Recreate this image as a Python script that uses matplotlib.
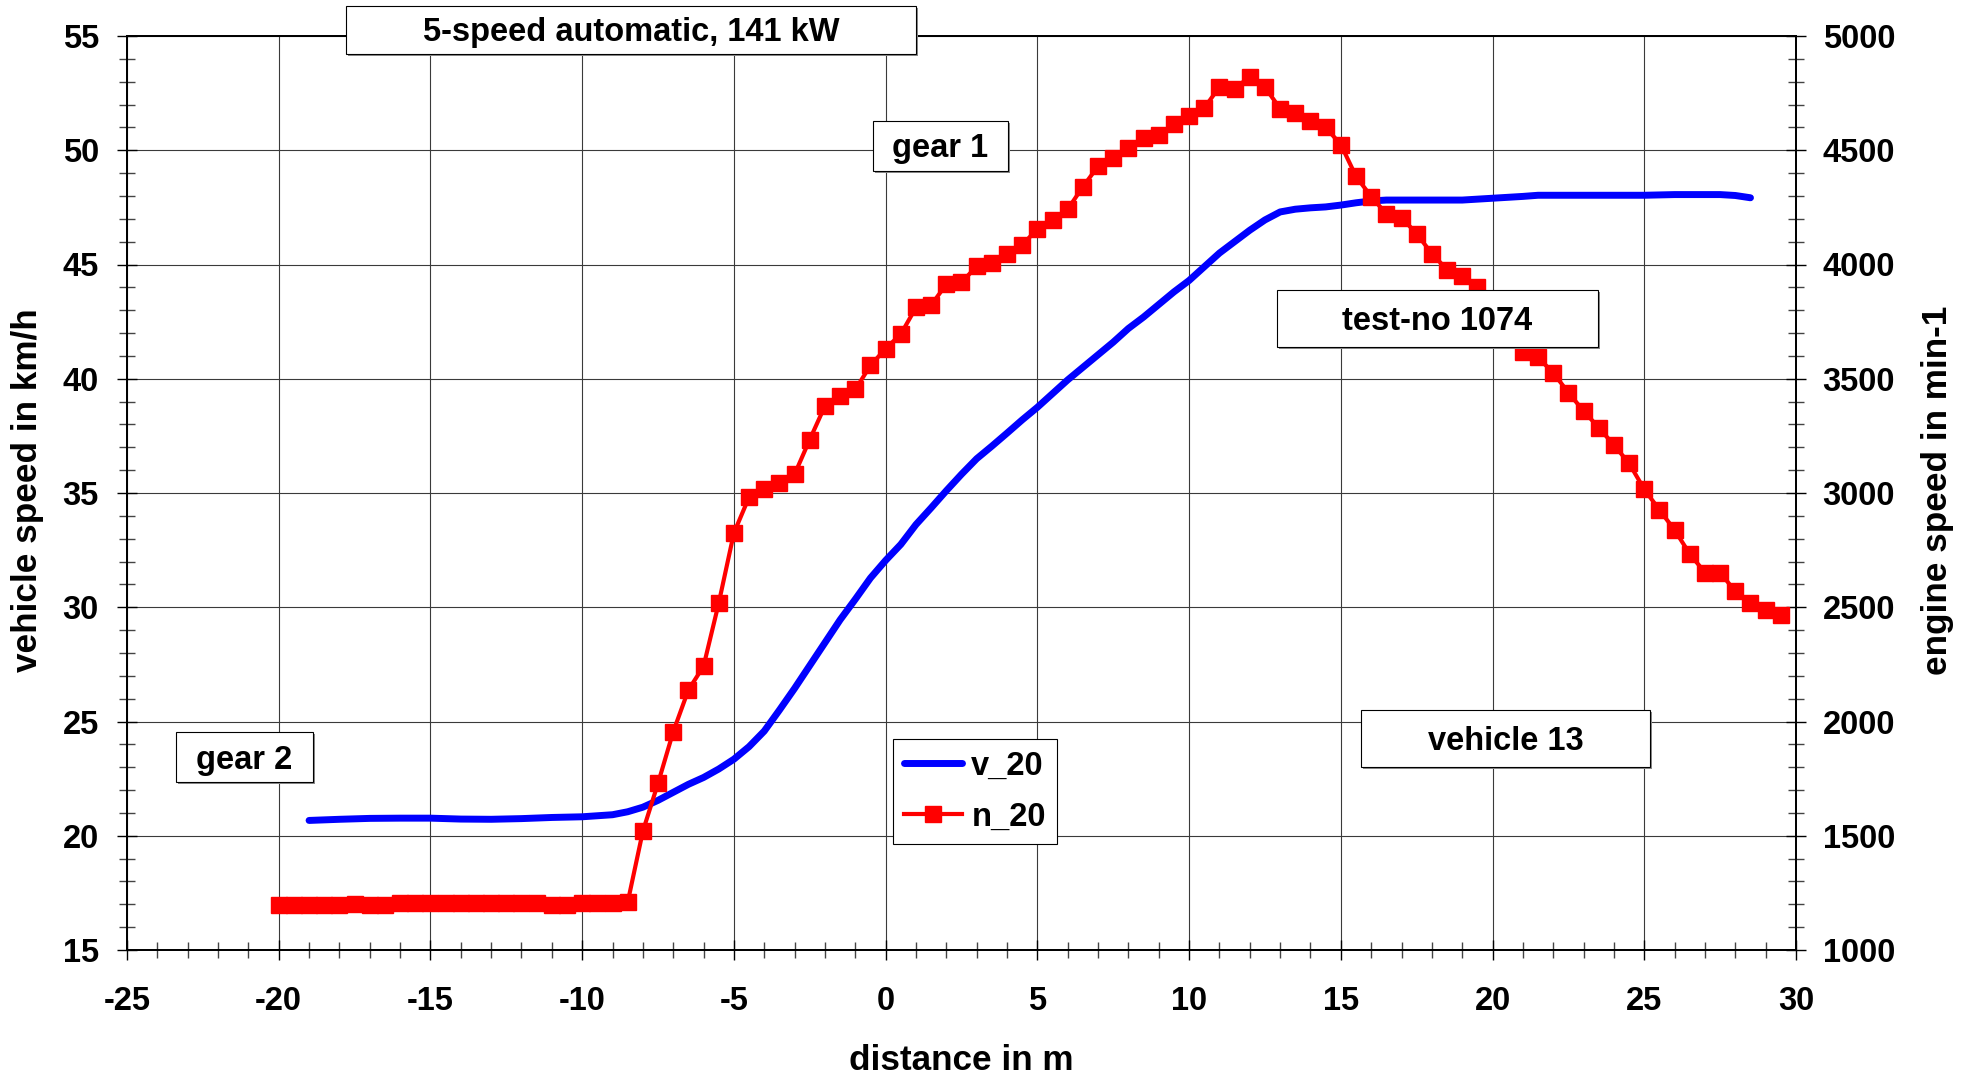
import matplotlib
matplotlib.use('Agg')
import matplotlib.pyplot as plt
from matplotlib.patches import Rectangle
from matplotlib.ticker import MultipleLocator

# ---------------- data ----------------
v_distance = [-19.0, -18.0, -17.0, -16.0, -15.0, -14.0, -13.0, -12.0, -11.0, -10.0,
              -9.0, -8.5, -8.0, -7.5, -7.0, -6.5, -6.0, -5.5, -5.0, -4.5,
              -4.0, -3.5, -3.0, -2.5, -2.0, -1.5, -1.0, -0.5, 0.0, 0.5,
              1.0, 1.5, 2.0, 2.5, 3.0, 3.5, 4.0, 4.5, 5.0, 5.5,
              6.0, 6.5, 7.0, 7.5, 8.0, 8.5, 9.0, 9.5, 10.0, 10.5,
              11.0, 11.5, 12.0, 12.5, 13.0, 13.5, 14.0, 14.5, 15.0, 15.5,
              16.0, 16.5, 17.0, 18.0, 19.0, 20.0, 21.0, 21.5, 22.0, 23.0,
              24.0, 25.0, 26.0, 27.0, 27.5, 28.0, 28.5]
v_20 = [20.67, 20.72, 20.76, 20.77, 20.77, 20.73, 20.72, 20.75, 20.80, 20.83,
        20.92, 21.05, 21.25, 21.55, 21.90, 22.25, 22.55, 22.92, 23.35, 23.90,
        24.58, 25.50, 26.45, 27.45, 28.45, 29.45, 30.35, 31.28, 32.05, 32.75,
        33.62, 34.35, 35.10, 35.82, 36.50, 37.05, 37.62, 38.20, 38.75, 39.35,
        39.95, 40.50, 41.05, 41.60, 42.20, 42.70, 43.25, 43.80, 44.30, 44.90,
        45.50, 46.00, 46.50, 46.95, 47.30, 47.42, 47.48, 47.52, 47.60, 47.70,
        47.78, 47.82, 47.82, 47.82, 47.82, 47.90, 47.98, 48.03, 48.03, 48.03,
        48.03, 48.03, 48.06, 48.06, 48.06, 48.02, 47.92]

n_distance = [-20.0, -19.5, -19.0, -18.5, -18.0, -17.5, -17.0, -16.5, -16.0, -15.5,
              -15.0, -14.5, -14.0, -13.5, -13.0, -12.5, -12.0, -11.5, -11.0, -10.5,
              -10.0, -9.5, -9.0, -8.5, -8.0, -7.5, -7.0, -6.5, -6.0, -5.5,
              -5.0, -4.5, -4.0, -3.5, -3.0, -2.5, -2.0, -1.5, -1.0, -0.5,
              0.0, 0.5, 1.0, 1.5, 2.0, 2.5, 3.0, 3.5, 4.0, 4.5,
              5.0, 5.5, 6.0, 6.5, 7.0, 7.5, 8.0, 8.5, 9.0, 9.5,
              10.0, 10.5, 11.0, 11.5, 12.0, 12.5, 13.0, 13.5, 14.0, 14.5,
              15.0, 15.5, 16.0, 16.5, 17.0, 17.5, 18.0, 18.5, 19.0, 19.5,
              20.0, 20.5, 21.0, 21.5, 22.0, 22.5, 23.0, 23.5, 24.0, 24.5,
              25.0, 25.5, 26.0, 26.5, 27.0, 27.5, 28.0, 28.5, 29.0, 29.5]
n_20 = [1195, 1197, 1198, 1198, 1199, 1200, 1198, 1199, 1205, 1206,
        1206, 1206, 1206, 1206, 1206, 1206, 1206, 1205, 1198, 1199,
        1205, 1206, 1207, 1209, 1520, 1730, 1955, 2138, 2242, 2518,
        2825, 2982, 3016, 3042, 3082, 3234, 3381, 3425, 3453, 3558,
        3632, 3695, 3812, 3822, 3914, 3922, 3992, 4008, 4045, 4085,
        4156, 4193, 4242, 4340, 4430, 4468, 4510, 4553, 4566, 4617,
        4651, 4685, 4777, 4770, 4821, 4776, 4682, 4662, 4628, 4600,
        4525, 4386, 4297, 4222, 4205, 4135, 4047, 3978, 3948, 3903,
        3810, 3715, 3618, 3593, 3526, 3439, 3359, 3286, 3210, 3130,
        3016, 2926, 2838, 2733, 2652, 2652, 2569, 2518, 2486, 2467]

series_labels = ['v_20', 'n_20']
x_label = 'distance in m'
y_label_left = 'vehicle speed in km/h'
y_label_right = 'engine speed in min-1'
annotations = ['5-speed automatic, 141 kW', 'gear 1', 'test-no 1074', 'vehicle 13', 'gear 2']

# ---------------- style ----------------
plt.rcParams['font.family'] = ['Liberation Sans', 'DejaVu Sans']
plt.rcParams['font.weight'] = 'bold'
plt.rcParams['axes.unicode_minus'] = False
FS = 23.5
FS_LABEL = 25.3

W, H = 1967, 1076
fig = plt.figure(figsize=(W / 100, H / 100), dpi=100)
fig.patch.set_facecolor('white')
ax = fig.add_axes([127 / W, 1 - 950 / H, (1796 - 127) / W, (950 - 36) / H])
ax2 = ax.twinx()

ax.set_xlim(-25, 30)
ax.set_ylim(15, 55)
ax2.set_ylim(1000, 5000)

ax.xaxis.set_major_locator(MultipleLocator(5))
ax.xaxis.set_minor_locator(MultipleLocator(1))
ax.yaxis.set_major_locator(MultipleLocator(5))
ax.yaxis.set_minor_locator(MultipleLocator(1))
ax2.yaxis.set_major_locator(MultipleLocator(500))
ax2.yaxis.set_minor_locator(MultipleLocator(100))

ax.grid(True, which='major', color='#3a3a3a', linewidth=0.8)
ax.set_axisbelow(True)

for a in (ax, ax2):
    a.tick_params(which='major', direction='inout', length=14.4, width=1.0, color='black')
    a.tick_params(which='minor', direction='inout', length=11.5, width=1.0, color='#444444')
    for s in a.spines.values():
        s.set_linewidth(1.3)
        s.set_color('black')

ax.tick_params(axis='x', which='major', labelsize=FS, pad=19)
ax.tick_params(axis='y', which='major', labelsize=FS, pad=13)
ax2.tick_params(axis='y', which='major', labelsize=FS, pad=12)
for lab in ax.get_xticklabels() + ax.get_yticklabels() + ax2.get_yticklabels():
    lab.set_fontweight('bold')

# ---------------- series ----------------
l1, = ax.plot(v_distance, v_20, color='#0000ff', linewidth=5.0,
              solid_capstyle='round', solid_joinstyle='round', label=series_labels[0], zorder=3)
l2, = ax2.plot(n_distance, n_20, color='#ff0000', linewidth=3.0, marker='s',
               markersize=12, markerfacecolor='#ff0000', markeredgecolor='#ff0000',
               label=series_labels[1], zorder=3)

# ---------------- axis labels ----------------
ax.set_xlabel(x_label, fontsize=FS_LABEL, fontweight='bold')
ax.xaxis.set_label_coords(961 / W, 1 - 1061 / H, transform=fig.transFigure)
ax.xaxis.label.set_va('center')
ax.set_ylabel(y_label_left, fontsize=FS_LABEL, fontweight='bold')
ax.yaxis.set_label_coords(28 / W, 1 - 490 / H, transform=fig.transFigure)
ax.yaxis.label.set_va('center')
ax2.set_ylabel(y_label_right, fontsize=FS_LABEL, fontweight='bold', rotation=90)
ax2.yaxis.set_label_coords(1937 / W, 1 - 490 / H, transform=fig.transFigure)
ax2.yaxis.label.set_va('center')

# ---------------- text boxes ----------------
def text_box(x0, y0, x1, y1, txt):
    fx0, fy0 = x0 / W, 1 - y1 / H
    fw, fh = (x1 - x0) / W, (y1 - y0) / H
    shadow = Rectangle((fx0 + 2 / W, fy0 - 2 / H), fw, fh, transform=fig.transFigure,
                       facecolor='#8a8a8a', edgecolor='none', zorder=5)
    rect = Rectangle((fx0, fy0), fw, fh, transform=fig.transFigure,
                     facecolor='white', edgecolor='black', linewidth=0.8, zorder=6)
    fig.add_artist(shadow)
    fig.add_artist(rect)
    fig.text((x0 + x1) / 2 / W, 1 - ((y0 + y1) / 2 + 3) / H, txt, ha='center', va='center',
             fontsize=FS, fontweight='bold', zorder=7)

text_box(346, 6, 916, 54, annotations[0])
text_box(873, 121, 1008, 171, annotations[1])
text_box(1277, 290, 1598, 347, annotations[2])
text_box(1361, 710, 1650, 767, annotations[3])
text_box(176, 732, 313, 782, annotations[4])

# ---------------- legend ----------------
leg = ax2.legend([l1, l2], series_labels, loc='upper left',
                 bbox_to_anchor=(893 / W, 1 - 739 / H), bbox_transform=fig.transFigure,
                 borderaxespad=0, frameon=True, fancybox=False, framealpha=1,
                 edgecolor='black', handlelength=1.75, handletextpad=0.3,
                 borderpad=0.35, labelspacing=0.62, numpoints=1,
                 prop={'size': FS, 'weight': 'bold'})
leg.get_frame().set_linewidth(0.8)
leg.set_zorder(10)

fig.savefig('out.png', dpi=100)
